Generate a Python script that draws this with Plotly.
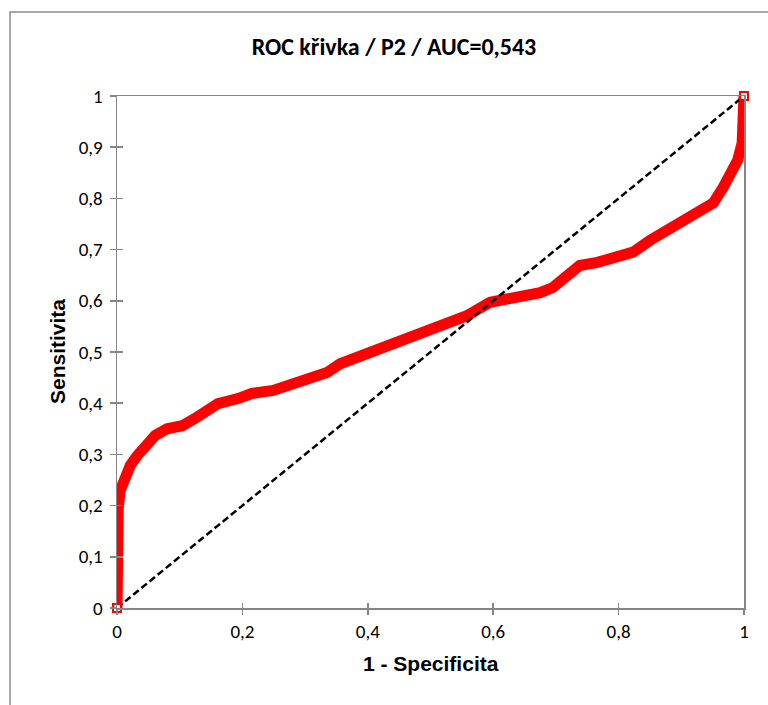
import plotly.graph_objects as go

# ROC curve points (1 - specificity, sensitivity)
fpr = [0.0, 0.0, 0.001, 0.002, 0.002, 0.005, 0.010, 0.021, 0.032, 0.048, 0.061,
       0.080, 0.104, 0.124, 0.140, 0.161, 0.193, 0.215, 0.249, 0.303, 0.335,
       0.356, 0.399, 0.440, 0.483, 0.515, 0.558, 0.595, 0.638, 0.675, 0.695,
       0.718, 0.738, 0.766, 0.797, 0.823, 0.850, 0.877, 0.903, 0.930, 0.951,
       0.967, 0.981, 0.990, 0.997, 0.998, 1.0]
tpr = [0.0, 0.05, 0.12, 0.17, 0.196, 0.229, 0.250, 0.278, 0.297, 0.317, 0.337,
       0.350, 0.356, 0.370, 0.385, 0.399, 0.409, 0.419, 0.425, 0.444, 0.460,
       0.477, 0.497, 0.517, 0.532, 0.552, 0.571, 0.597, 0.607, 0.616, 0.626,
       0.646, 0.669, 0.675, 0.685, 0.695, 0.718, 0.738, 0.757, 0.771, 0.791,
       0.822, 0.849, 0.875, 0.908, 0.947, 1.0]

diag_x = [0, 1]
diag_y = [0, 1]

x_tickvals = [0, 0.2, 0.4, 0.6, 0.8, 1]
x_ticktext = ["0", "0,2", "0,4", "0,6", "0,8", "1"]
y_tickvals = [0, 0.1, 0.2, 0.3, 0.4, 0.5, 0.6, 0.7, 0.8, 0.9, 1]
y_ticktext = ["0", "0,1", "0,2", "0,3", "0,4", "0,5", "0,6", "0,7", "0,8", "0,9", "1"]

title_text = "ROC křivka / P2 / AUC=0,543"
x_title = "1 - Specificita"
y_title = "Sensitivita"

W, H = 768, 705
L, T = 117, 96
R = W - 744
B = H - 608
AXIS_COLOR = "#868686"
TICK_FONT = dict(family="Carlito, Lato, Liberation Sans", size=19, color="#000000")

fig = go.Figure()

fig.add_trace(go.Scatter(
    x=fpr, y=tpr, mode="lines",
    line=dict(color="#FF0000", width=11),
    cliponaxis=False, showlegend=False, hoverinfo="skip"))

fig.add_trace(go.Scatter(
    x=diag_x, y=diag_y, mode="lines",
    line=dict(color="#000000", width=2.5, dash="7px,3.5px"),
    cliponaxis=False, showlegend=False, hoverinfo="skip"))

fig.add_trace(go.Scatter(
    x=[fpr[0], fpr[-1]], y=[tpr[0], tpr[-1]], mode="markers",
    marker=dict(symbol="square", size=8, color="#FFFFFF",
                line=dict(color="#FF0000", width=2)),
    cliponaxis=False, showlegend=False, hoverinfo="skip"))

common = dict(range=[0, 1], showgrid=False, zeroline=False, fixedrange=True)

fig.update_layout(
    width=W, height=H,
    margin=dict(l=L, r=R, t=T, b=B, pad=0),
    paper_bgcolor="#FFFFFF", plot_bgcolor="#FFFFFF",
    xaxis=dict(**common, tickvals=x_tickvals, ticktext=x_ticktext,
               ticks="outside", ticklen=5, tickwidth=1.5, tickcolor=AXIS_COLOR,
               showline=True, linecolor=AXIS_COLOR, linewidth=1.5, mirror=True,
               tickfont=TICK_FONT, ticklabelstandoff=1),
    yaxis=dict(**common, tickvals=y_tickvals, ticktext=y_ticktext,
               ticks="outside", ticklen=6, tickwidth=1.5, tickcolor=AXIS_COLOR,
               showline=True, linecolor=AXIS_COLOR, linewidth=1.5, mirror=True,
               tickfont=TICK_FONT, ticklabelstandoff=3),
    xaxis2=dict(**common, overlaying="x", anchor="y", side="bottom",
                tickvals=x_tickvals, ticks="inside", ticklen=5, tickwidth=1.5,
                tickcolor=AXIS_COLOR, showticklabels=False, showline=False),
    yaxis2=dict(**common, overlaying="y", anchor="x", side="left",
                tickvals=y_tickvals, ticks="inside", ticklen=6, tickwidth=1.5,
                tickcolor=AXIS_COLOR, showticklabels=False, showline=False),
    title=dict(text="<b>" + title_text + "</b>", xref="container", yref="container",
               x=394 / W, y=1 - 47 / H, xanchor="center", yanchor="middle",
               font=dict(family="Carlito, Lato, Liberation Sans", size=24, color="#000000")),
    showlegend=False,
)

# invisible trace so the overlay tick axes render
fig.add_trace(go.Scatter(x=[0], y=[0], xaxis="x2", yaxis="y2", mode="markers",
                         marker=dict(opacity=0), showlegend=False, hoverinfo="skip"))

fig.add_annotation(text="<b>" + x_title + "</b>", xref="paper", yref="paper",
                   x=0.5, y=0, xanchor="center", yanchor="middle", yshift=-55,
                   showarrow=False,
                   font=dict(family="Liberation Sans, Arial", size=21, color="#000000"))
fig.add_annotation(text="<b>" + y_title + "</b>", xref="paper", yref="paper",
                   x=0, y=0.5, xanchor="center", yanchor="middle", xshift=-(117 - 57),
                   textangle=-90, showarrow=False,
                   font=dict(family="Liberation Sans, Arial", size=21, color="#000000"))

pw = W - L - R
ph = H - T - B
fig.add_shape(type="rect", xref="paper", yref="paper",
              x0=(10 - L) / pw, x1=(W + 40 - L) / pw,
              y0=(H - B - (H + 40)) / ph, y1=(H - B - 12) / ph,
              line=dict(color="#8C8C8C", width=1.5), fillcolor="rgba(0,0,0,0)",
              layer="below")

fig.write_html(
    "out.html",
    config={"displayModeBar": False, "staticPlot": True},
    post_script="document.body.style.margin='0';document.body.style.overflow='hidden';",
)
